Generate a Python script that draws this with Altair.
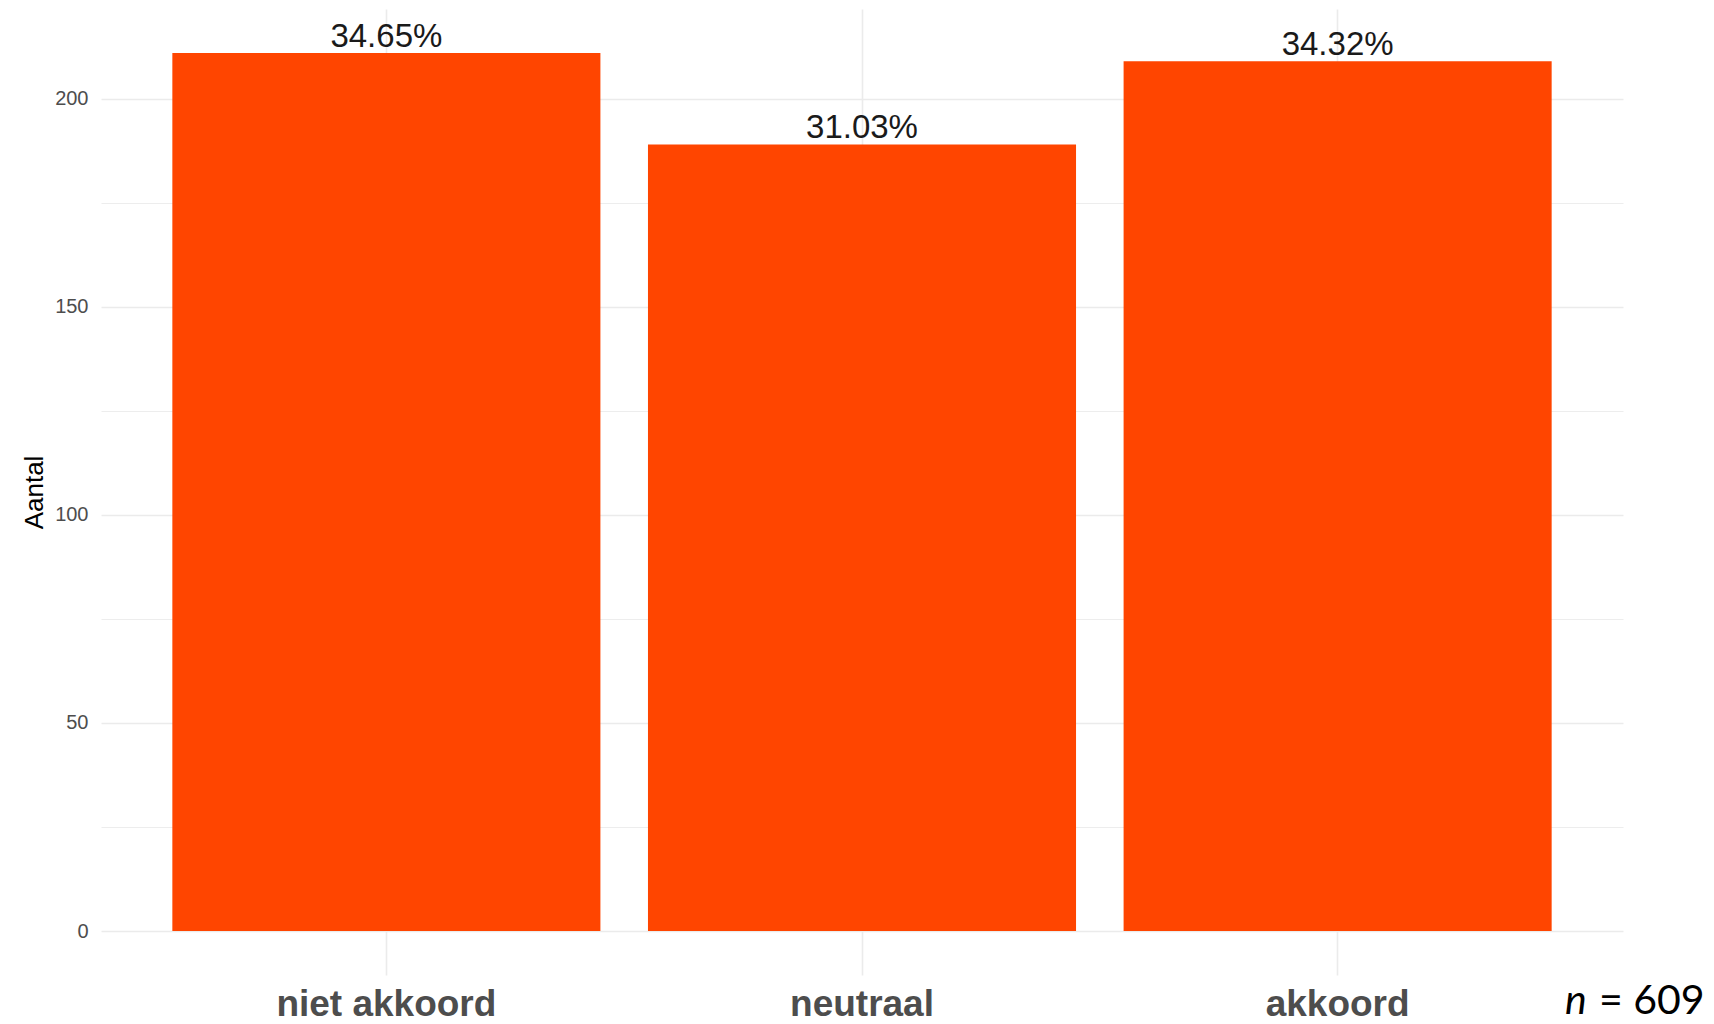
import altair as alt
import pandas as pd

categories = ["niet akkoord", "neutraal", "akkoord"]
counts = [211, 189, 209]
pct_labels = ["34.65%", "31.03%", "34.32%"]
n_total = 609
y_ticks = [0, 25, 50, 75, 100, 125, 150, 175, 200]

df = pd.DataFrame({"cat": categories, "count": counts, "pct": pct_labels})

W = 1522
H = 966
FONT = "Liberation Sans"

x_enc = alt.X(
    "cat:N",
    sort=categories,
    title=None,
    scale=alt.Scale(paddingInner=0.1, paddingOuter=0.15),
    axis=alt.Axis(
        labelFontSize=37,
        labelFontWeight="bold",
        labelColor="#4D4D4D",
        labelFont=FONT,
        labelBaseline="alphabetic",
        labelPadding=40,
        labelLimit=0,
        ticks=False,
        tickSize=0,
        domain=False,
        grid=True,
        gridColor="#EBEBEB",
        gridWidth=1.6,
        bandPosition=0.5,
        labelAngle=0,
    ),
)

y_scale = alt.Scale(domain=[-10.55, 221.55], nice=False, zero=False)

bars = alt.Chart(df).mark_bar(color="#FF4500").encode(
    x=x_enc,
    y=alt.Y(
        "count:Q",
        scale=y_scale,
        axis=alt.Axis(
            values=y_ticks,
            labelExpr="datum.value % 50 === 0 ? datum.label : ''",
            labelFontSize=20,
            labelColor="#4D4D4D",
            labelFont=FONT,
            labelPadding=13,
            ticks=False,
            domain=False,
            grid=True,
            gridColor="#EBEBEB",
            gridWidth={"condition": {"test": "datum.value % 50 === 0", "value": 1.6}, "value": 0.9},
            title="Aantal",
            titleFont=FONT,
            titleFontSize=26,
            titleFontWeight="normal",
            titleColor="#000000",
            titleAngle=270,
            titleAlign="center",
            titleBaseline="alphabetic",
            titleX=-59,
            titleY=H / 2,
        ),
    ),
    y2=alt.datum(0),
)

text = alt.Chart(df).mark_text(
    dy=-6, baseline="alphabetic", fontSize=33, font=FONT, color="#1A1A1A"
).encode(
    x=alt.X("cat:N", sort=categories),
    y=alt.Y("count:Q", scale=y_scale),
    text="pct:N",
)

n_df = pd.DataFrame({"a": ["n"], "b": [f"= {n_total}"]})
n_italic = alt.Chart(n_df).mark_text(
    align="left", baseline="alphabetic", fontSize=41, font="Lato", fontStyle="italic", color="#000000"
).encode(x=alt.value(1464), y=alt.value(H + 39), text="a:N")
n_rest = alt.Chart(n_df).mark_text(
    align="left", baseline="alphabetic", fontSize=41, font="Lato", color="#000000"
).encode(x=alt.value(1498), y=alt.value(H + 39), text="b:N")

chart = (
    alt.layer(bars, text, n_italic, n_rest)
    .properties(
        width=W,
        height=H,
        background="white",
        autosize=alt.AutoSizeParams(type="none"),
        padding={"left": 93, "top": 1, "right": 83, "bottom": 48},
    )
    .configure_view(stroke="transparent", strokeWidth=0)
)

chart.save("out.html", embed_options={"renderer": "svg", "actions": False})
